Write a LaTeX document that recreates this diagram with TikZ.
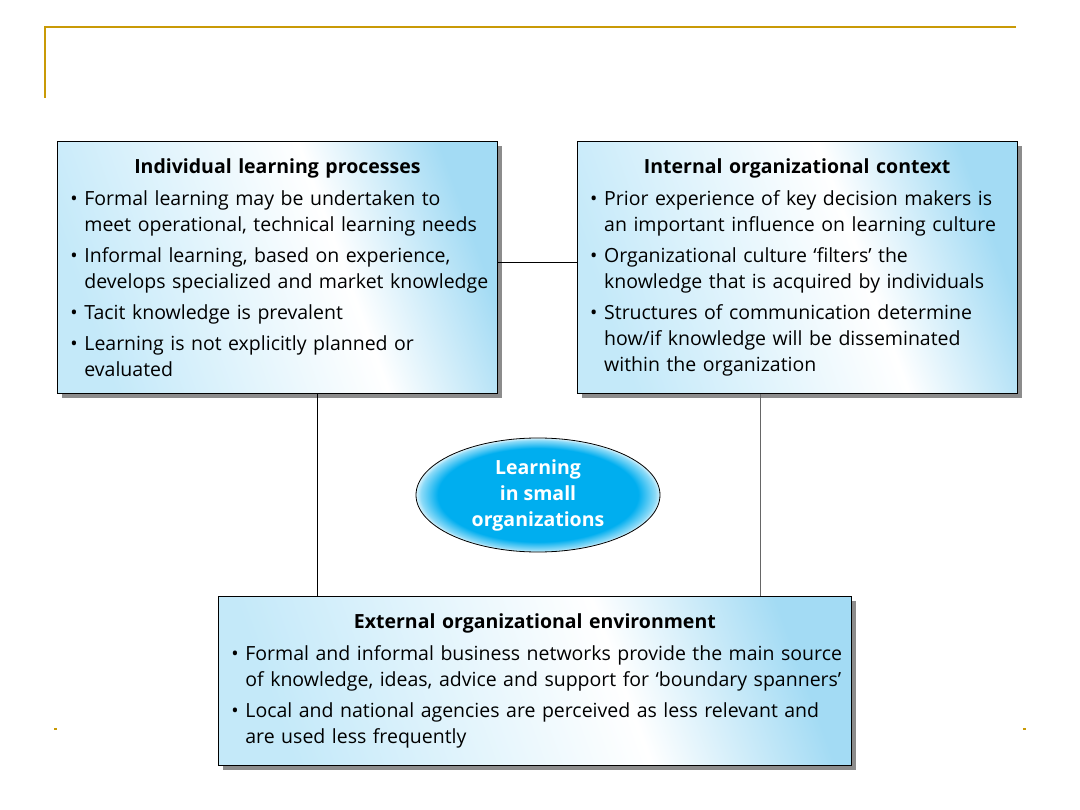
\documentclass[tikz,border=0pt]{standalone}
\usepackage{fontspec}
\setmainfont{Open Sans}
\usetikzlibrary{shapes.geometric, shadows, positioning}

\definecolor{goldline}{HTML}{C99A06}
\definecolor{panelblue}{HTML}{A3DBF4}
\definecolor{panellight}{HTML}{C4E9F9}
\definecolor{hubblue}{HTML}{00AEEF}

\pgfdeclarehorizontalshading{panelshade}{100bp}{color(0bp)=(panellight); color(25bp)=(panellight); color(58bp)=(white); color(75bp)=(panelblue); color(100bp)=(panelblue)}
\pgfdeclareradialshading{hubshade}{\pgfpoint{0bp}{0bp}}{color(0bp)=(hubblue); color(20.5bp)=(hubblue); color(24bp)=(white!55!hubblue); color(25bp)=(white!85!hubblue); color(50bp)=(white)}

\newcommand{\panelhead}[1]{{\centering\bfseries #1\par}\vspace{1pt}}
\newcommand{\pitem}[1]{\par\vspace{5pt}\hangindent=14pt\hangafter=1\noindent\makebox[14pt][l]{\textbullet}#1\par}
\newcommand{\nl}{\unskip\nobreak\hfil\break}

\begin{document}
\begin{tikzpicture}[
    x=1pt, y=-1pt,
    panel/.style={rectangle, draw=black, line width=0.8pt, shading=panelshade, shading angle=20,
        drop shadow={shadow xshift=5pt, shadow yshift=-5pt, fill=black!45, opacity=1},
        inner xsep=13pt, text width=414pt, minimum width=440pt,
        font=\fontsize{19.5}{26}\selectfont, execute at begin node={\raggedright\rightskip=-8pt plus 2em}},
    hub/.style={ellipse, draw=black, line width=0.8pt, shading=hubshade, minimum width=244pt, minimum height=114pt,
        text=white, align=center, font=\fontsize{19.5}{26}\selectfont\bfseries},
    link/.style={line width=0.8pt},
]
    \useasboundingbox (0,0) rectangle (1080,810);

    % Title frame
    \draw [goldline, line width=2pt] (1016,27) -| (45,98);
    \fill [goldline] (54,728) rectangle (57,730);
    \fill [goldline] (1023,728) rectangle (1026,730);

    % Panels
    \node (ilp) [panel, minimum height=252pt, anchor=north west] at (57,141) {%
        \panelhead{Individual learning processes}%
        \pitem{Formal learning may be undertaken to\nl meet operational, technical learning needs}%
        \pitem{Informal learning, based on experience,\nl develops specialized and market knowledge}%
        \pitem{Tacit knowledge is prevalent}%
        \pitem{Learning is not explicitly planned or\nl evaluated}};
    \node (ioc) [panel, minimum height=252pt, right=79pt of ilp] {%
        \panelhead{Internal organizational context}%
        \pitem{Prior experience of key decision makers is\nl an important influence on learning culture}%
        \pitem{Organizational culture `filters' the\nl knowledge that is acquired by individuals}%
        \pitem{Structures of communication determine\nl how/if knowledge will be disseminated\nl within the organization}};
    \node (eoe) [panel, text width=607pt, minimum width=633pt, minimum height=169pt, anchor=north west] at (218,596) {%
        \panelhead{External organizational environment}%
        \pitem{Formal and informal business networks provide the main source\nl of knowledge, ideas, advice and support for `boundary spanners'}%
        \pitem{Local and national agencies are perceived as less relevant and\nl are used less frequently}};

    % Centre
    \node (hub) [hub] at (538,495) {Learning\\in small\\organizations};

    % Links
    \draw [link] (ilp.east |- 0,262) -- (ioc.west |- 0,262);
    \draw [link] (ilp.south -| 317,0) -- (eoe.north -| 317,0);
    \draw [link, black!60] (ioc.south -| 760,0) -- (eoe.north -| 760,0);

\end{tikzpicture}
\end{document}
